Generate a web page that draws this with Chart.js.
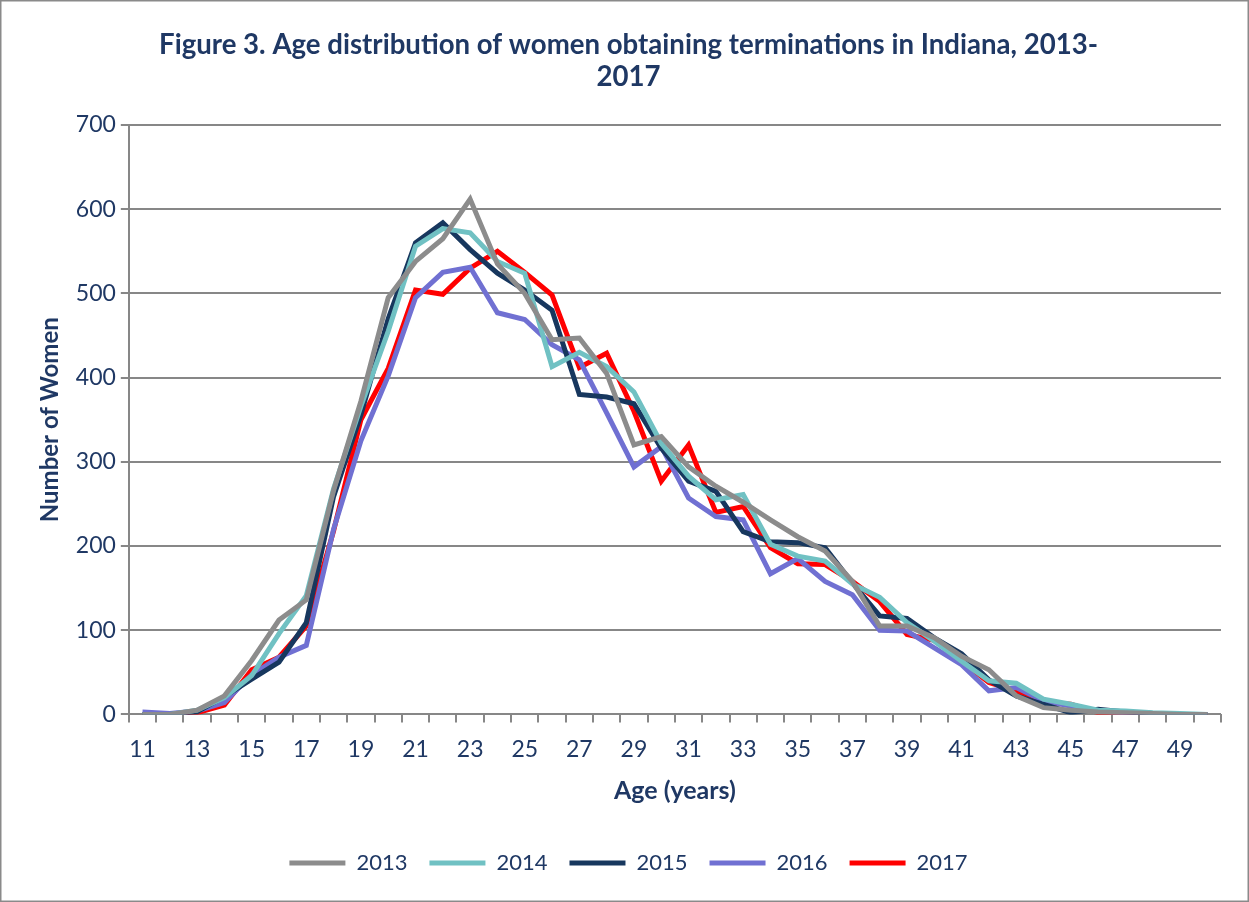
<!DOCTYPE html>
<html>
<head>
<meta charset="utf-8">
<script src="https://cdn.jsdelivr.net/npm/chart.js@4/dist/chart.umd.min.js"></script>
<style>
  html, body { margin: 0; padding: 0; background: #fff; }
  #wrap { width: 1249px; height: 902px; }
</style>
</head>
<body>
<div id="wrap"><canvas id="ageChart" width="1249" height="902"></canvas></div>
<script>
const ages = [];
for (let a = 11; a <= 50; a++) ages.push(String(a));

const yearLabels = ['2013', '2014', '2015', '2016', '2017'];

const y2013 = [0, 0, 5, 22, 64, 112, 136, 266, 372, 495, 538, 565, 612, 535, 500, 445, 447, 405, 320, 330, 294, 271, 252, 231, 211, 194, 158, 105, 105, 91, 69, 53, 22, 8, 5, 3, 2, 1, 0, 0];
const y2014 = [0, 0, 5, 20, 46, 96, 141, 268, 366, 455, 556, 577, 572, 538, 524, 413, 430, 413, 383, 322, 283, 255, 261, 202, 188, 182, 155, 139, 109, 87, 63, 40, 37, 18, 12, 5, 4, 2, 1, 0];
const y2015 = [0, 0, 3, 21, 42, 62, 109, 259, 356, 470, 560, 584, 552, 524, 504, 480, 380, 377, 369, 316, 277, 265, 217, 205, 204, 198, 156, 117, 114, 91, 72, 41, 22, 12, 2, 6, 3, 1, 0, 0];
const y2016 = [3, 1, 4, 14, 47, 68, 82, 220, 325, 402, 495, 525, 531, 477, 469, 439, 421, 358, 294, 318, 257, 235, 231, 167, 185, 158, 142, 100, 99, 79, 59, 28, 32, 16, 10, 4, 2, 1, 0, 0];
const y2017 = [0, 0, 2, 11, 53, 68, 105, 218, 350, 411, 504, 499, 530, 550, 525, 498, 412, 429, 360, 277, 320, 240, 247, 198, 179, 178, 158, 134, 95, 88, 63, 38, 28, 14, 12, 2, 0, 0, 0, 0];

const seriesColors = ['#8c8c8c', '#70c1c3', '#17375e', '#7070d2', '#ff0000'];
const allSeries = [y2013, y2014, y2015, y2016, y2017];

const textColor = '#1f3864';
const gridGray = '#878787';
const fontFamily = 'Lato, "Open Sans", sans-serif';

const frame = {
  id: 'frame',
  beforeDraw(chart) {
    const c = chart.ctx;
    c.save();
    c.fillStyle = '#fff';
    c.fillRect(0, 0, chart.width, chart.height);
    c.strokeStyle = '#8a8a8a';
    c.lineWidth = 1.5;
    c.strokeRect(0.75, 0.75, chart.width - 1.5, chart.height - 1.5);
    c.restore();
  }
};

new Chart(document.getElementById('ageChart'), {
  type: 'line',
  data: {
    labels: ages,
    datasets: yearLabels.map((yr, i) => ({
      label: yr,
      data: allSeries[i],
      borderColor: seriesColors[i],
      backgroundColor: seriesColors[i],
      borderWidth: 5,
      pointRadius: 0,
      tension: 0,
      fill: false
    }))
  },
  options: {
    responsive: false,
    animation: false,
    layout: { padding: { left: 36, right: 28, top: 6, bottom: 18 } },
    plugins: {
      title: {
        display: true,
        text: ['Figure 3. Age distribution of women obtaining terminations in Indiana, 2013-', '2017'],
        color: textColor,
        font: { family: fontFamily, size: 27.6, weight: 'bold', lineHeight: 1.16 },
        padding: { top: 23, bottom: 32 }
      },
      legend: {
        position: 'bottom',
        labels: {
          color: textColor,
          font: { family: fontFamily, size: 22 },
          usePointStyle: true,
          pointStyleWidth: 56,
          pointStyle: 'line',
          padding: 22
        }
      },
      tooltip: { enabled: false }
    },
    scales: {
      x: {
        offset: true,
        grid: {
          offset: true,
          color: ctx => (ctx.index === 0 || ctx.index === ages.length) ? gridGray : 'rgba(0,0,0,0)',
          tickColor: gridGray,
          lineWidth: 2,
          tickLength: 8
        },
        border: { display: false },
        ticks: {
          autoSkip: false,
          maxRotation: 0,
          color: textColor,
          font: { family: fontFamily, size: 23 },
          padding: 13,
          callback: function (val, idx) { return idx % 2 === 0 ? this.getLabelForValue(val) : ''; }
        },
        title: {
          display: true,
          text: 'Age (years)',
          color: textColor,
          font: { family: fontFamily, size: 25, weight: 'bold' },
          padding: { top: 0, bottom: 24 }
        }
      },
      y: {
        min: 0,
        max: 700,
        grid: { color: gridGray, lineWidth: 2, tickLength: 8, tickColor: gridGray },
        border: { color: gridGray, width: 2 },
        ticks: {
          stepSize: 100,
          color: textColor,
          font: { family: fontFamily, size: 23 },
          padding: 5
        },
        title: {
          display: true,
          text: 'Number of Women',
          color: textColor,
          font: { family: fontFamily, size: 24, weight: 'bold' },
          padding: { top: 0, bottom: 6 }
        }
      }
    }
  },
  plugins: [frame]
});
</script>
</body>
</html>
